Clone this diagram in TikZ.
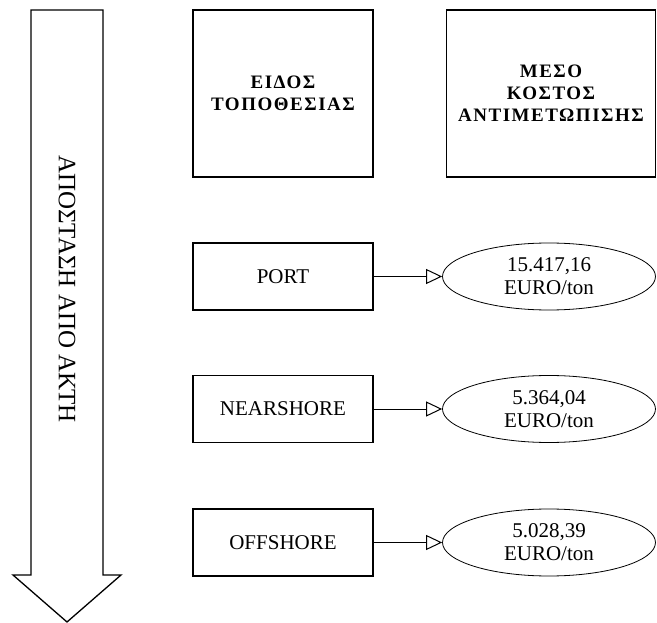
\documentclass[tikz,border=0pt]{standalone}
\usepackage{fontspec}
\setmainfont{Liberation Serif}
\usetikzlibrary{shapes.geometric,arrows.meta}
\begin{document}
\begin{tikzpicture}[x=1pt,y=-1pt,
  hdrbox/.style={draw,line width=1.4pt,inner sep=0pt,align=center,font=\fontsize{19}{22}\selectfont\bfseries\addfontfeature{LetterSpace=8}},
  rowbox/.style={draw,line width=1.4pt,minimum width=180pt,minimum height=67pt,inner sep=0pt,font=\fontsize{21}{23}\selectfont},
  cost/.style={draw,ellipse,line width=0.8pt,minimum width=213pt,minimum height=67pt,inner sep=0pt,align=center,font=\fontsize{21}{23}\selectfont},
  conn/.style={line width=1pt,-{Triangle[open,length=16pt,width=15pt,line width=1pt]}}]
\useasboundingbox (0,0) rectangle (657,623);
% big down arrow
\draw[line width=1.3pt,fill=white] (31,10) -- (103,10) -- (103,575) -- (121,575) -- (67,622) -- (13,575) -- (31,575) -- cycle;
\node[rotate=-90,font=\fontsize{25}{28}\selectfont] (dist) at (67,289) {ΑΠΟΣΤΑΣΗ ΑΠΟ ΑΚΤΗ};
% header boxes
\node[hdrbox,minimum width=180pt,minimum height=167pt] (h1) at (283,93.5) {ΕΙΔΟΣ\\ΤΟΠΟΘΕΣΙΑΣ};
\node[hdrbox,minimum width=209pt,minimum height=167pt] (h2) at (551,93.5) {ΜΕΣΟ\\ΚΟΣΤΟΣ\\ΑΝΤΙΜΕΤΩΠΙΣΗΣ};
% rows
\node[rowbox] (port) at (283,276.5) {PORT};
\node[cost] (cport) at (549,276.5) {15.417,16\\EURO/ton};
\node[rowbox] (near) at (283,409) {NEARSHORE};
\node[cost] (cnear) at (549,409) {5.364,04\\EURO/ton};
\node[rowbox] (off) at (283,542.5) {OFFSHORE};
\node[cost] (coff) at (549,542.5) {5.028,39\\EURO/ton};
\draw[conn] (port.east) -- (cport.west);
\draw[conn] (near.east) -- (cnear.west);
\draw[conn] (off.east) -- (coff.west);
\end{tikzpicture}
\end{document}
